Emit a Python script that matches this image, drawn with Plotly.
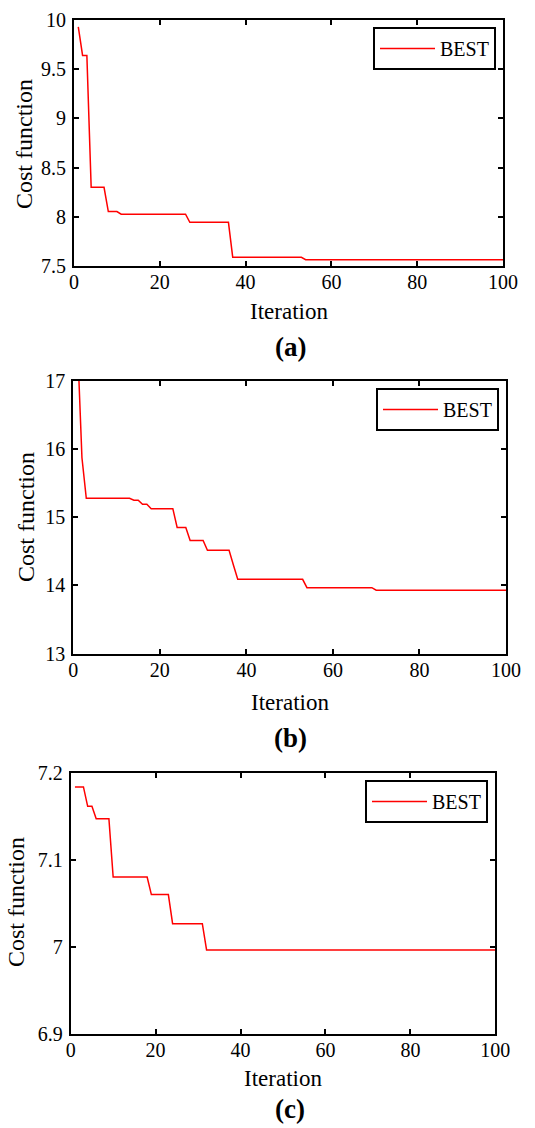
import plotly.graph_objects as go

# ---------------- data ----------------
iter_a = [1, 2, 3, 4, 7, 8, 10, 11, 26, 27, 36, 37, 53, 54, 100]
cost_a = [9.93, 9.64, 9.64, 8.30, 8.30, 8.053, 8.053, 8.026, 8.026, 7.944, 7.944,
          7.588, 7.588, 7.564, 7.564]

iter_b = [1, 2, 3, 13, 14, 15, 16, 17, 18, 23, 24, 26, 27, 30, 31, 36, 37, 38,
          53, 54, 69, 70, 100]
cost_b = [17.5, 15.87, 15.276, 15.276, 15.25, 15.25, 15.19, 15.19, 15.125, 15.125,
          14.85, 14.85, 14.66, 14.66, 14.514, 14.514, 14.30, 14.09, 14.09, 13.967,
          13.967, 13.93, 13.93]

iter_c = [1, 3, 4, 5, 6, 9, 10, 18, 19, 23, 24, 31, 32, 100]
cost_c = [7.1843, 7.1843, 7.162, 7.162, 7.1478, 7.1478, 7.0807, 7.0807, 7.0604,
          7.0604, 7.027, 7.027, 6.9967, 6.9967]

x_ticks = [0, 20, 40, 60, 80, 100]
y_ticks_a = [7.5, 8, 8.5, 9, 9.5, 10]
y_text_a = ["7.5", "8", "8.5", "9", "9.5", "10"]
y_ticks_b = [13, 14, 15, 16, 17]
y_text_b = ["13", "14", "15", "16", "17"]
y_ticks_c = [6.9, 7.0, 7.1, 7.2]
y_text_c = ["6.9", "7", "7.1", "7.2"]

panel_labels = ["(a)", "(b)", "(c)"]
series_name = "BEST"
x_title = "Iteration"
y_title = "Cost function"

# ---------------- layout geometry ----------------
W, H = 535, 1128
FONT = "Liberation Serif"

def px_x(v):
    return v / W

def px_y(v):
    return 1 - v / H

panels = [
    dict(x0=74, x1=503, y0=20, y1=266, yr=[7.5, 10], yt=y_ticks_a, ytt=y_text_a,
         xs=iter_a, ys=cost_a, leg=(496, 27), ytx=24, yty=144, xty=311, lbly=347),
    dict(x0=73.3, x1=506, y0=380.7, y1=653.7, yr=[13, 17], yt=y_ticks_b, ytt=y_text_b,
         xs=iter_b, ys=cost_b, leg=(499, 388), ytx=26, yty=517, xty=702, lbly=738),
    dict(x0=70.7, x1=495.3, y0=773.3, y1=1034, yr=[6.9, 7.2], yt=y_ticks_c, ytt=y_text_c,
         xs=iter_c, ys=cost_c, leg=(488, 780), ytx=16, yty=902, xty=1078, lbly=1109),
]

fig = go.Figure()
layout = dict(
    width=W, height=H,
    margin=dict(l=0, r=0, t=0, b=0),
    paper_bgcolor="white", plot_bgcolor="white",
    font=dict(family=FONT, color="black", size=20),
    annotations=[],
)

for i, p in enumerate(panels):
    n = "" if i == 0 else str(i + 1)
    legname = "legend" + n
    fig.add_trace(go.Scatter(
        x=p["xs"], y=p["ys"], mode="lines", name=series_name,
        line=dict(color="#ff0000", width=1.5),
        xaxis="x" + n, yaxis="y" + n, legend=legname, showlegend=True,
    ))
    axis_common = dict(
        showline=True, linecolor="black", linewidth=2, mirror="ticks",
        ticks="inside", ticklen=5, tickwidth=1.5, tickcolor="black",
        showgrid=False, zeroline=False, automargin=False,
        tickfont=dict(family=FONT, size=20, color="black"),
    )
    layout["xaxis" + n] = dict(
        axis_common, domain=[px_x(p["x0"]), px_x(p["x1"])], range=[0, 100],
        tickvals=x_ticks, ticktext=[str(v) for v in x_ticks],
        anchor="y" + n, ticklabelstandoff=-3,
    )
    layout["yaxis" + n] = dict(
        axis_common, domain=[px_y(p["y1"]), px_y(p["y0"])], range=p["yr"],
        tickvals=p["yt"], ticktext=p["ytt"], anchor="x" + n,
        ticklabelstandoff=2,
    )
    layout[legname] = dict(
        x=px_x(p["leg"][0]), y=px_y(p["leg"][1]), xanchor="right", yanchor="top",
        xref="paper", yref="paper", itemwidth=55,
        bgcolor="white", bordercolor="black", borderwidth=2,
        font=dict(family=FONT, size=20, color="black"),
    )
    cx = (p["x0"] + p["x1"]) / 2
    layout["annotations"] += [
        dict(text=x_title, x=px_x(cx), y=px_y(p["xty"]), xref="paper", yref="paper",
             showarrow=False, xanchor="center", yanchor="middle",
             font=dict(family=FONT, size=23, color="black")),
        dict(text=y_title, x=px_x(p["ytx"]), y=px_y(p["yty"]), xref="paper",
             yref="paper", showarrow=False, textangle=-90, xanchor="center",
             yanchor="middle", font=dict(family=FONT, size=24, color="black")),
        dict(text="<b>" + panel_labels[i] + "</b>", x=px_x(290), y=px_y(p["lbly"]),
             xref="paper", yref="paper", showarrow=False, xanchor="center",
             yanchor="middle", font=dict(family=FONT, size=27, color="black")),
    ]

fig.update_layout(**layout)
fig.write_html("out.html", config={"displayModeBar": False},
               post_script="document.body.style.margin='0';")
